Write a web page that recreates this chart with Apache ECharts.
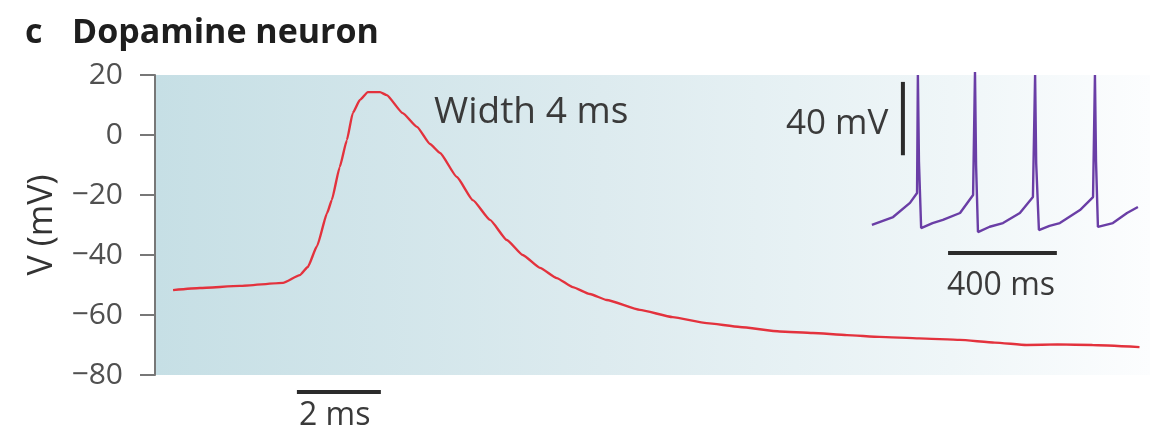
<!DOCTYPE html>
<html>
<head>
<meta charset="utf-8">
<script src="https://cdn.jsdelivr.net/npm/echarts@6/dist/echarts.min.js"></script>
<style>
html,body{margin:0;padding:0;background:#fff;}
#chart{width:1162px;height:440px;}
</style>
</head>
<body>
<div id="chart"></div>
<script>
// ---- Data ----
// Main trace: time (ms), membrane voltage (mV)
const mainTime = [0.43,1.07,2.02,3.05,3.45,3.64,3.86,4.10,4.21,4.40,4.57,4.71,4.88,5.07,5.36,5.52,5.90,6.24,6.55,6.79,7.19,7.57,7.98,8.38,8.76,9.17,9.57,9.95,10.36,10.76,11.55,12.33,13.14,13.93,14.88,15.67,16.48,17.26,18.20,19.17,20.00,20.76,21.50,22.33,23.45];
const mainV    = [-51.7,-51.0,-50.3,-49.3,-46.7,-44.0,-37.0,-26.0,-21.7,-10.7,-1.7,7.3,11.7,14.3,14.3,13.3,7.3,2.7,-3.0,-6.0,-14.0,-21.7,-28.3,-35.0,-40.0,-44.3,-47.7,-50.7,-53.0,-55.0,-58.3,-60.7,-62.7,-64.0,-65.5,-66.0,-66.7,-67.3,-67.8,-68.3,-69.2,-70.0,-69.8,-70.0,-70.7];
// Inset trace (spontaneous firing): time (ms), voltage (mV)
const insetTime = [7,85,147,173,176,180,188,230,268,331,379,386,390,397,440,489,551,599,607,611,621,660,698,772,820,827,831,838,893,945,985];
const insetV    = [-64.5,-60.2,-52.5,-47.1,17.3,-30,-66.2,-63.5,-61.8,-58.0,-48.2,18.9,-32,-68.4,-65.5,-63.5,-58.0,-49.3,17.3,-31,-67.3,-65.0,-63.5,-56.4,-49.3,17.3,-30,-65.6,-63.5,-58.0,-54.7];
// Axis ticks
const yTicks = [-80,-60,-40,-20,0,20];
// Scale bars
const bar2msTime = [3.38,5.38];      const bar2msV = [-85.7,-85.7];
const bar40mVTime = [121,121];       const bar40mVV = [13.5,-26.5];
const bar400msTime = [287,687];      const bar400msV = [-79.8,-79.8];
// Texts
const titleLetter = 'c';
const titleText = 'Dopamine neuron';
const yName = 'V (mV)';
const widthNote = 'Width 4 ms';
const label2ms = '2 ms';
const label40mV = '40 mV';
const label400ms = '400 ms';

const zip = (a,b) => a.map((v,i)=>[v,b[i]]);
const FONT = '"Open Sans", "DejaVu Sans", sans-serif';

const chart = echarts.init(document.getElementById('chart'), null, {renderer:'canvas'});
const option = {
  animation: false,
  backgroundColor: '#ffffff',
  grid: [
    {left:155, top:75, width:995, height:300, show:true, borderWidth:0,
     backgroundColor:{type:'linear', x:0, y:0, x2:1, y2:0,
       colorStops:[{offset:0,color:'#c6dfe5'},{offset:0.45,color:'#ddebef'},{offset:0.8,color:'#eff6f8'},{offset:1,color:'#fcfdfe'}]}},
    {left:870, top:70, width:272, height:165, show:false}
  ],
  xAxis: [
    {gridIndex:0, type:'value', min:0, max:23.7, show:false},
    {gridIndex:1, type:'value', min:0, max:1000, show:false}
  ],
  yAxis: [
    {gridIndex:0, type:'value', min:yTicks[0], max:yTicks[yTicks.length-1], interval:20,
     name:yName, nameLocation:'middle', nameRotate:90, nameGap:96,
     nameTextStyle:{fontFamily:FONT, fontSize:34, color:'#333'},
     axisLine:{show:true, lineStyle:{color:'#777', width:2}},
     axisTick:{show:true, length:15, lineStyle:{color:'#777', width:2}},
     axisLabel:{margin:32, fontFamily:FONT, fontSize:30, color:'#505050',
       formatter:v=>String(v).replace('-','\u2212')},
     splitLine:{show:false}},
    {gridIndex:1, type:'value', min:-70, max:20, show:false}
  ],
  series: [
    {type:'line', xAxisIndex:0, yAxisIndex:0, data:zip(mainTime,mainV), showSymbol:false, smooth:0.15, smoothMonotone:'x',
     lineStyle:{color:'#e3323d', width:2.4}},
    {type:'line', xAxisIndex:1, yAxisIndex:1, data:zip(insetTime,insetV), showSymbol:false, clip:false,
     lineStyle:{color:'#6a3ea6', width:2.4}},
    {type:'line', xAxisIndex:0, yAxisIndex:0, data:zip(bar2msTime,bar2msV), showSymbol:false, clip:false,
     lineStyle:{color:'#2b2b2b', width:4}},
    {type:'line', xAxisIndex:1, yAxisIndex:1, data:zip(bar40mVTime,bar40mVV), showSymbol:false, clip:false,
     lineStyle:{color:'#2b2b2b', width:4}},
    {type:'line', xAxisIndex:1, yAxisIndex:1, data:zip(bar400msTime,bar400msV), showSymbol:false, clip:false,
     lineStyle:{color:'#2b2b2b', width:4}}
  ],
  graphic: [
    {type:'text', left:25, top:16, style:{text:titleLetter, fontFamily:FONT, fontWeight:'bold', fontSize:34, fill:'#1e1e1e'}},
    {type:'text', left:72, top:16, style:{text:titleText, fontFamily:FONT, fontWeight:'bold', fontSize:34, fill:'#1e1e1e'}},
    {type:'text', left:434, top:94, style:{text:widthNote, fontFamily:FONT, fontSize:37, fill:'#3a3a3a'}},
    {type:'text', left:786, top:107, style:{text:label40mV, fontFamily:FONT, fontSize:35, fill:'#3a3a3a'}},
    {type:'text', left:947, top:270, style:{text:label400ms, fontFamily:FONT, fontSize:32, fill:'#3a3a3a'}},
    {type:'text', left:299, top:400, style:{text:label2ms, fontFamily:FONT, fontSize:32, fill:'#3a3a3a'}}
  ]
};
chart.setOption(option);
</script>
</body>
</html>
